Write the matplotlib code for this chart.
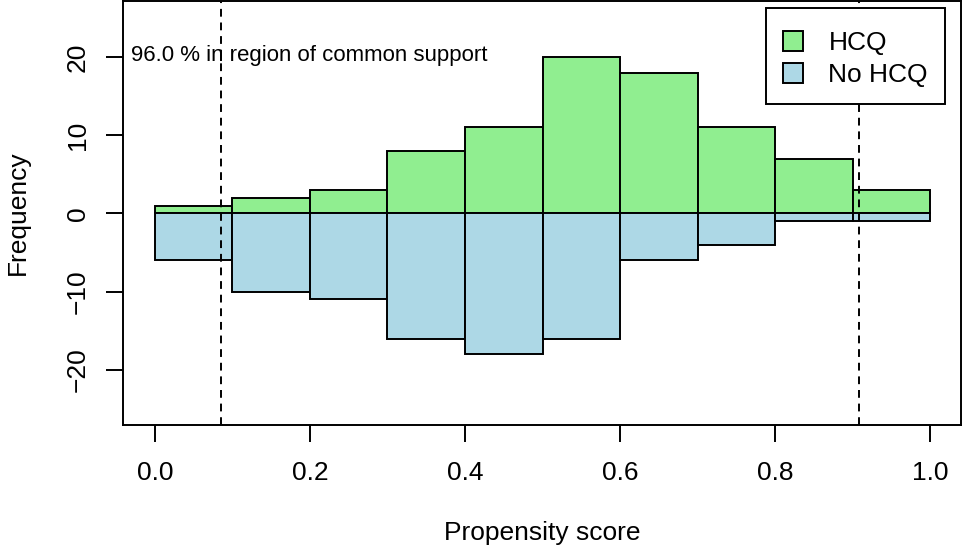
import numpy as np
import matplotlib
matplotlib.use('Agg')
import matplotlib.pyplot as plt
from matplotlib.patches import Patch

plt.rcParams['font.family'] = ['Liberation Sans', 'DejaVu Sans']

# Histogram of propensity scores, treated above / untreated mirrored below
bin_edges = [0.0, 0.1, 0.2, 0.3, 0.4, 0.5, 0.6, 0.7, 0.8, 0.9, 1.0]
hcq_counts = [1, 2, 3, 8, 11, 20, 18, 11, 7, 3]
no_hcq_counts = [6, 10, 11, 16, 18, 16, 6, 4, 1, 1]
support_bounds = [0.085, 0.9085]
support_text = '96.0 % in region of common support'
x_ticks = [0.0, 0.2, 0.4, 0.6, 0.8, 1.0]
y_ticks = [-20, -10, 0, 10, 20]

GREEN = '#90EE90'
BLUE = '#ADD8E6'

fig = plt.figure(figsize=(9.63, 5.54), dpi=100)
ax = fig.add_axes([123 / 963, 1 - 425 / 554, 838 / 963, 424 / 554])

left = np.array(bin_edges[:-1])
width = np.diff(bin_edges)
ax.bar(left, hcq_counts, width=width, align='edge', color=GREEN,
       edgecolor='black', linewidth=1.4, zorder=2)
ax.bar(left, -np.array(no_hcq_counts), width=width, align='edge', color=BLUE,
       edgecolor='black', linewidth=1.4, zorder=2)

for xb in support_bounds:
    ax.axvline(xb, color='black', lw=1.4, linestyle=(0, (4, 3)), zorder=3)

ax.text(-0.031, 20.2, support_text, ha='left', va='center', fontsize=16, zorder=4)

ax.set_xlim(-0.0412, 1.0399)
ax.set_ylim(-27.05, 27.15)

ax.set_xticks(x_ticks)
ax.set_xticklabels([f'{t:.1f}' for t in x_ticks])
ax.set_yticks(y_ticks)
ax.set_yticklabels([str(t).replace('-', '\u2212') for t in y_ticks],
                   rotation=90, va='center')
ax.tick_params(axis='both', length=12, width=1.4, labelsize=19, pad=14)
ax.tick_params(axis='y', pad=12)
for sp in ax.spines.values():
    sp.set_linewidth(1.4)

ax.set_xlabel('Propensity score', fontsize=19, labelpad=26)
ax.set_ylabel('Frequency', fontsize=19, labelpad=26)

handles = [Patch(facecolor=GREEN, edgecolor='black', lw=1.4, label='HCQ'),
           Patch(facecolor=BLUE, edgecolor='black', lw=1.4, label='No HCQ')]
# a tiny blank title pads the top of the box a little
leg = ax.legend(handles=handles, loc='upper right', bbox_to_anchor=(0.981, 0.983),
                borderaxespad=0, fontsize=19, handlelength=0.78, handleheight=0.78,
                handletextpad=0.95, labelspacing=0.3, borderpad=0.65,
                title=' ', title_fontsize=3,
                fancybox=False, framealpha=1, edgecolor='black')
leg._legend_box.sep = 1
leg.get_frame().set_linewidth(1.4)
leg.set_zorder(5)

fig.savefig('out.png', dpi=100)
